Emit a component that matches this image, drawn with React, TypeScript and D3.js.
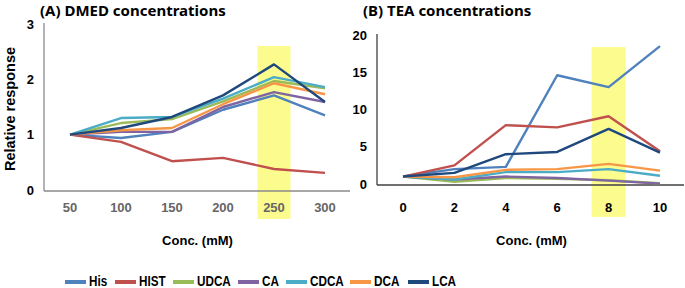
import React from "react";
import * as d3 from "d3";

const seriesNames = ["His", "HIST", "UDCA", "CA", "CDCA", "DCA", "LCA"];
const seriesColors = ["#4F81BD", "#C0504D", "#9BBB59", "#8064A2", "#4BACC6", "#F79646", "#1F497D"];

const dmedConc = ["50", "100", "150", "200", "250", "300"];
const dmedTicks = [0, 1, 2, 3];
const dmedHis = [1.0, 0.94, 1.05, 1.45, 1.71, 1.35];
const dmedHIST = [1.0, 0.87, 0.52, 0.58, 0.38, 0.31];
const dmedUDCA = [1.0, 1.21, 1.28, 1.6, 1.97, 1.84];
const dmedCA = [1.0, 1.05, 1.05, 1.5, 1.77, 1.59];
const dmedCDCA = [1.0, 1.3, 1.32, 1.65, 2.04, 1.86];
const dmedDCA = [1.0, 1.08, 1.12, 1.55, 1.93, 1.73];
const dmedLCA = [1.0, 1.12, 1.32, 1.71, 2.27, 1.59];

const teaConc = ["0", "2", "4", "6", "8", "10"];
const teaTicks = [0, 5, 10, 15, 20];
const teaHis = [1.0, 2.0, 2.3, 14.6, 13.0, 18.5];
const teaHIST = [1.0, 2.5, 7.9, 7.6, 9.1, 4.4];
const teaUDCA = [1.0, 0.3, 0.8, 0.7, 0.5, 0.1];
const teaCA = [1.0, 0.6, 1.0, 0.8, 0.45, 0.05];
const teaCDCA = [1.0, 0.6, 1.6, 1.6, 2.0, 1.1];
const teaDCA = [1.0, 0.9, 1.9, 2.0, 2.7, 1.8];
const teaLCA = [1.0, 1.5, 4.0, 4.3, 7.4, 4.2];

const dmedSeries = [dmedHis, dmedHIST, dmedUDCA, dmedCA, dmedCDCA, dmedDCA, dmedLCA];
const teaSeries = [teaHis, teaHIST, teaUDCA, teaCA, teaCDCA, teaDCA, teaLCA];

const titleFont = "'Noto Sans', 'Open Sans', sans-serif";
const tickFont = "'Liberation Sans', Arial, sans-serif";

type PanelProps = {
  title: string;
  cats: string[];
  ticks: number[];
  series: number[][];
  xRange: [number, number];
  yDomain: [number, number];
  yRange: [number, number];
  axisX: number;
  axisRight: number;
  axisColor: string;
  xLabelColor: string;
  highlight: string;
  bandTop: number;
  bandBottom: number;
  bandHalf: number;
  titleX: number;
  tickRight: number;
};

function Panel(p: PanelProps) {
  const x = d3.scalePoint<string>().domain(p.cats).range(p.xRange);
  const y = d3.scaleLinear().domain(p.yDomain).range(p.yRange);
  const line = d3
    .line<number>()
    .x((_, i) => x(p.cats[i]) as number)
    .y((v) => y(v));
  const hx = x(p.highlight) as number;
  const y0 = y(p.yDomain[0]);
  const yTop = y(p.yDomain[1]);
  return (
    <g>
      <text x={p.titleX} y={16} fontFamily={titleFont} fontWeight={700} fontSize={15} fill="#000">
        {p.title}
      </text>
      <rect x={hx - p.bandHalf} width={p.bandHalf * 2} y={p.bandTop} height={p.bandBottom - p.bandTop} fill="#FCFC8E" />
      <line x1={p.axisX} x2={p.axisX} y1={yTop - 1} y2={y0 + 1} stroke={p.axisColor} strokeWidth={1.3} />
      <line x1={p.axisX} x2={p.axisRight} y1={y0 + 1} y2={y0 + 1} stroke={p.axisColor} strokeWidth={1.3} />
      {p.ticks.map((t) => (
        <text key={t} x={p.tickRight} y={y(t)} dy="0.35em" textAnchor="end" fontFamily={tickFont} fontWeight={700} fontSize={13} fill="#000">
          {t}
        </text>
      ))}
      {p.cats.map((c) => (
        <text key={c} x={x(c) as number} y={212} textAnchor="middle" fontFamily={tickFont} fontWeight={700} fontSize={13} fill={p.xLabelColor}>
          {c}
        </text>
      ))}
      {p.series.map((s, i) => (
        <path key={i} d={line(s) || ""} fill="none" stroke={seriesColors[i]} strokeWidth={2.4} strokeLinejoin="round" />
      ))}
      <text x={(p.xRange[0] + p.xRange[1]) / 2} y={245} textAnchor="middle" fontFamily={tickFont} fontWeight={700} fontSize={13} fill="#000">
        Conc. (mM)
      </text>
    </g>
  );
}

const legendLineX = [65, 115, 173, 238, 286, 350, 408];

export default function App() {
  return (
    <svg width={685} height={288} style={{ position: "absolute", left: 0, top: 0, background: "#fff" }}>
      <rect width={685} height={288} fill="#fff" />
      <Panel
        title="(A) DMED concentrations"
        cats={dmedConc}
        ticks={dmedTicks}
        series={dmedSeries}
        xRange={[70, 325]}
        yDomain={[0, 3]}
        yRange={[190, 24]}
        axisX={44}
        axisRight={350}
        axisColor="#8a8a8a"
        xLabelColor="#666666"
        highlight="250"
        bandTop={46}
        bandBottom={219}
        bandHalf={16.5}
        titleX={40}
        tickRight={34}
      />
      <Panel
        title="(B) TEA concentrations"
        cats={teaConc}
        ticks={teaTicks}
        series={teaSeries}
        xRange={[403, 660]}
        yDomain={[0, 20]}
        yRange={[184, 35]}
        axisX={377}
        axisRight={684}
        axisColor="#404040"
        xLabelColor="#000"
        highlight="8"
        bandTop={47}
        bandBottom={217}
        bandHalf={17}
        titleX={363}
        tickRight={367}
      />
      <text transform="translate(15,109) rotate(-90)" textAnchor="middle" fontFamily={tickFont} fontWeight={700} fontSize={14.5} fill="#000">
        Relative response
      </text>
      {seriesNames.map((n, i) => (
        <g key={n}>
          <line x1={legendLineX[i]} x2={legendLineX[i] + 21} y1={282} y2={282} stroke={seriesColors[i]} strokeWidth={4} />
          <text transform={`translate(${legendLineX[i] + 24},286) scale(0.78,1)`} fontFamily={tickFont} fontWeight={700} fontSize={15} fill="#000">
            {n}
          </text>
        </g>
      ))}
    </svg>
  );
}
